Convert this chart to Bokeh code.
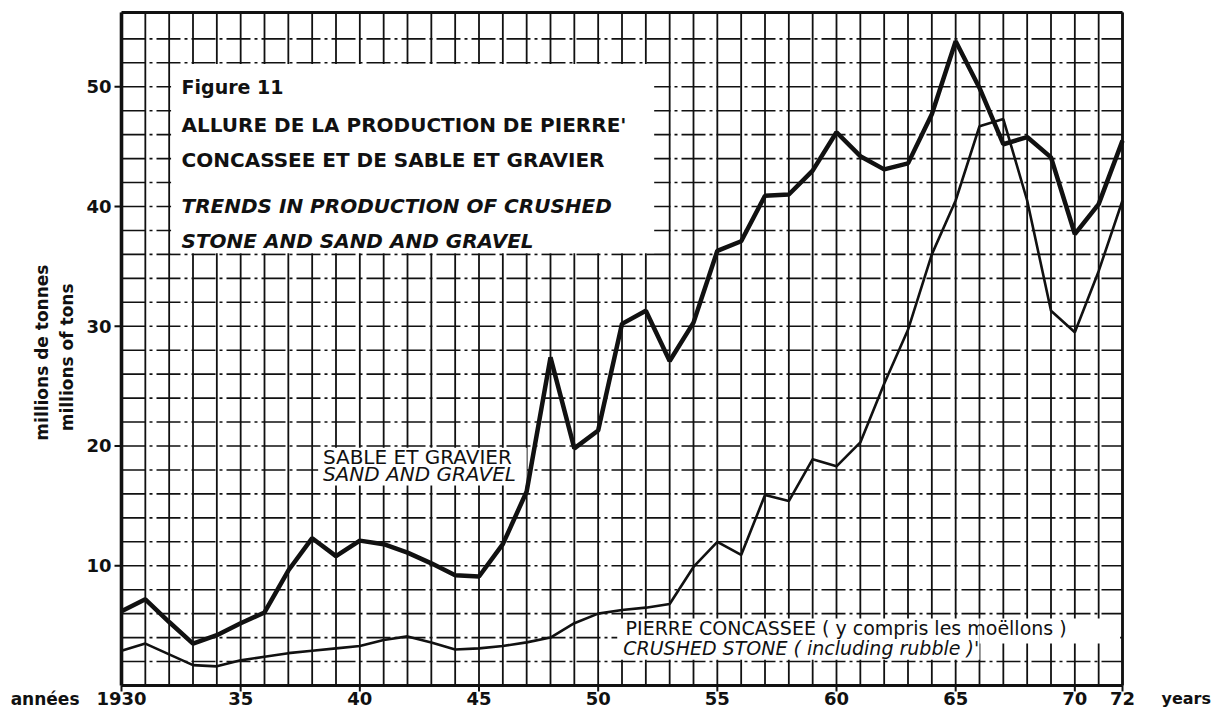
import math
from bokeh.plotting import figure
from bokeh.models import Range1d, Label, ColumnDataSource
from bokeh.core.properties import value
from bokeh.embed import file_html
from bokeh.resources import INLINE

# ---- data ----
years = list(range(1930, 1973))
sand_gravel = [6.2, 7.2, 5.3, 3.5, 4.2, 5.2, 6.1, 9.6, 12.3, 10.8,
               12.1, 11.8, 11.1, 10.2, 9.2, 9.1, 11.8, 16.2, 27.4, 19.8,
               21.3, 30.2, 31.3, 27.1, 30.3, 36.3, 37.1, 40.9, 41.0, 43.0,
               46.2, 44.2, 43.1, 43.6, 47.7, 53.8, 49.9, 45.2, 45.8, 44.1,
               37.7, 40.2, 45.5]
crushed_stone = [2.9, 3.5, 2.6, 1.7, 1.6, 2.1, 2.4, 2.7, 2.9, 3.1,
                 3.3, 3.8, 4.1, 3.6, 3.0, 3.1, 3.3, 3.6, 4.0, 5.2,
                 6.0, 6.3, 6.5, 6.8, 9.9, 12.0, 10.9, 15.9, 15.4, 18.9,
                 18.3, 20.3, 25.2, 29.7, 36.0, 40.5, 46.7, 47.3, 40.5, 31.3,
                 29.5, 34.6, 40.5]
x_ticks = [1930, 1935, 1940, 1945, 1950, 1955, 1960, 1965, 1970, 1972]
x_tick_labels = ["1930", "35", "40", "45", "50", "55", "60", "65", "70", "72"]
y_ticks = [10, 20, 30, 40, 50]
y_tick_labels = ["10", "20", "30", "40", "50"]
h_grid = list(range(2, 55, 2))

# ---- layout / style ----
W, H = 1213, 709
PLOT_L, PLOT_R, PLOT_T, PLOT_B = 121, 1122, 12, 685     # pixel box of the chart area
X_MIN, X_MAX, Y_MIN, Y_MAX = years[0], years[-1], 0.0, 56.2
sx = (PLOT_R - PLOT_L) / (X_MAX - X_MIN)                 # px per year
sy = (PLOT_B - PLOT_T) / (Y_MAX - Y_MIN)                 # px per unit
x_start = X_MIN - PLOT_L / sx
y_start = Y_MIN - (H - PLOT_B) / sy
FONT = "DejaVu Sans"
INK = "#111111"

def dx(px):
    return px / sx

def dy(px):
    return px / sy

p = figure(width=W, height=H, output_backend="svg", toolbar_location=None,
           x_axis_type=None, y_axis_type=None,
           x_range=Range1d(x_start, x_start + W / sx), y_range=Range1d(y_start, y_start + H / sy),
           min_border=0)
p.min_border_left = p.min_border_right = p.min_border_top = p.min_border_bottom = 0
p.background_fill_color = "white"
p.border_fill_color = "white"
p.outline_line_color = None
p.xgrid.grid_line_color = None
p.ygrid.grid_line_color = None

# grid: vertical every year, horizontal every 2
p.segment(x0=years, y0=[Y_MIN] * len(years), x1=years, y1=[Y_MAX] * len(years),
          line_color=INK, line_width=1.8)
p.segment(x0=[X_MIN] * len(h_grid), y0=h_grid, x1=[X_MAX] * len(h_grid), y1=h_grid,
          line_color=INK, line_width=1.6, line_dash="24 4 3 4")

# white panels behind the texts
p.quad(left=[1932.08, 1938.25, 1950.8, 1966.0], right=[1952.35, 1947.0, 1966.0, 1971.9],
       bottom=[36.1, 16.7, 2.15, 3.5], top=[51.9, 19.85, 5.6, 5.6],
       fill_color="white", line_color=None)

# chart box (axis lines)
p.segment(x0=[X_MIN, X_MIN, X_MIN, X_MAX], y0=[Y_MIN, Y_MIN, Y_MAX, Y_MIN],
          x1=[X_MAX, X_MIN, X_MAX, X_MAX], y1=[Y_MIN, Y_MAX, Y_MAX, Y_MAX],
          line_color=INK, line_width=[3.2, 3.6, 2.8, 2.8])

# tick marks
p.segment(x0=x_ticks, y0=[Y_MIN] * len(x_ticks), x1=x_ticks, y1=[Y_MIN - dy(6)] * len(x_ticks),
          line_color=INK, line_width=2)
p.segment(x0=[X_MIN] * len(y_ticks), y0=y_ticks, x1=[X_MIN - dx(7)] * len(y_ticks), y1=y_ticks,
          line_color=INK, line_width=2)

# tick labels
xt = ColumnDataSource(dict(x=x_ticks, y=[Y_MIN - dy(13)] * len(x_ticks), t=x_tick_labels))
p.text(x="x", y="y", text="t", source=xt, text_font=value(FONT), text_font_style="bold",
       text_font_size="18px", text_color=INK, text_align="center", text_baseline="middle")
yt = ColumnDataSource(dict(x=[X_MIN - dx(10)] * len(y_ticks), y=y_ticks, t=y_tick_labels))
p.text(x="x", y="y", text="t", source=yt, text_font=value(FONT), text_font_style="bold",
       text_font_size="18px", text_color=INK, text_align="right", text_baseline="middle")

# series
p.line(years, crushed_stone, line_color=INK, line_width=2.6)
p.line(years, sand_gravel, line_color=INK, line_width=4.5)

def lab(x, y, text, size, style="normal", align="left", angle=0.0):
    p.add_layout(Label(x=x, y=y, text=text, text_font=FONT, text_font_size=size,
                       text_font_style=style, text_color=INK, text_align=align,
                       text_baseline="middle", angle=angle))

# title block
lab(1932.52, 50.0, "Figure  11", "19px", "bold")
lab(1932.52, 46.8, "ALLURE DE LA PRODUCTION DE PIERRE'", "20px", "bold")
lab(1932.52, 43.9, "CONCASSEE ET DE SABLE ET GRAVIER", "20px", "bold")
lab(1932.52, 40.0, "TRENDS IN PRODUCTION OF CRUSHED", "20px", "bold italic")
lab(1932.52, 37.1, "STONE AND SAND AND GRAVEL", "20px", "bold italic")

# series labels
lab(1938.45, 19.1, "SABLE ET GRAVIER", "20px")
lab(1938.45, 17.7, "SAND AND GRAVEL", "20px", "italic")
lab(1951.15, 4.84, "PIERRE CONCASSEE ( y compris les moëllons )", "19px")
lab(1951.05, 3.09, "CRUSHED STONE ( including rubble )'", "19px", "italic")

# axis words
lab(X_MIN - dx(42), Y_MIN - dy(13), "années", "17px", "bold", align="right")
lab(X_MAX + dx(39), Y_MIN - dy(13), "years", "16px", "bold")
lab(X_MIN - dx(80), 27.8, "millions de tonnes", "17px", "bold", align="center", angle=math.pi / 2)
lab(X_MIN - dx(55), 27.4, "millions of tons", "17px", "bold", align="center", angle=math.pi / 2)

open("out.html", "w").write(file_html(p, INLINE))
